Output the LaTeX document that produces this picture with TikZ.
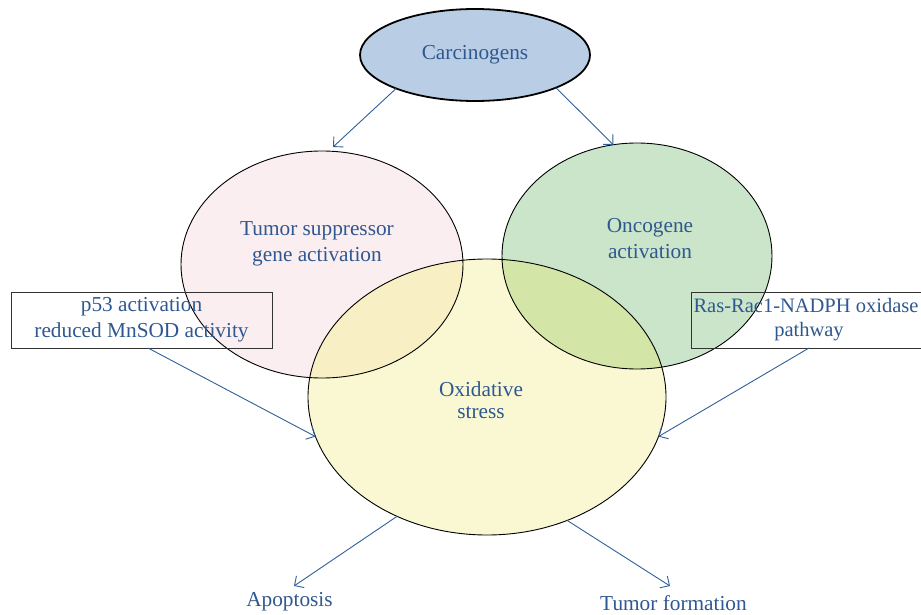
\documentclass[tikz,border=0pt]{standalone}
\usepackage{fontspec}
\setmainfont{Liberation Serif}
\usetikzlibrary{shapes.geometric,arrows.meta}
\definecolor{carcfill}{HTML}{B9CDE5}
\definecolor{pinkfill}{HTML}{FBEEF1}
\definecolor{greenfill}{HTML}{CAE5C9}
\definecolor{yellowfill}{HTML}{FAF8D3}
\definecolor{pyfill}{HTML}{F8EFC5}
\definecolor{gyfill}{HTML}{D4E6A7}
\definecolor{txtblue}{HTML}{2F5890}
\definecolor{arrowblue}{HTML}{30609A}
\definecolor{boxline}{HTML}{333333}
\begin{document}
\begin{tikzpicture}[x=1pt,y=-1pt,
  bigell/.style={ellipse, draw=black, line width=0.9pt, inner sep=0pt, outer sep=0pt},
  lbl/.style={text=txtblue, font=\fontsize{21.3}{26}\selectfont, align=center, inner sep=0pt},
  infobox/.style={draw=boxline, line width=0.9pt, inner sep=0pt, outer sep=0pt, text=txtblue, font=\fontsize{21.3}{26}\selectfont, align=center},
  conn/.style={draw=arrowblue, line width=0.9pt, -{Straight Barb[length=7pt,width=14pt]}}]
\useasboundingbox (0,0) rectangle (921,615);
% fills
\fill[pinkfill] (322,264.5) ellipse [x radius=141pt, y radius=113.5pt];
\fill[greenfill] (637,256) ellipse [x radius=135pt, y radius=113pt];
\fill[yellowfill] (487,397) ellipse [x radius=179pt, y radius=138pt];
\begin{scope}
  \clip (487,397) ellipse [x radius=179pt, y radius=138pt];
  \fill[pyfill] (322,264.5) ellipse [x radius=141pt, y radius=113.5pt];
  \fill[gyfill] (637,256) ellipse [x radius=135pt, y radius=113pt];
\end{scope}
% ellipse outlines
\node[bigell, minimum width=282pt, minimum height=227pt] (tsg) at (322,264.5) {};
\node[bigell, minimum width=270pt, minimum height=226pt] (onc) at (637,256) {};
\node[bigell, minimum width=358pt, minimum height=276pt] (ox) at (487,397) {};
\node[ellipse, draw=black, line width=1.8pt, fill=carcfill, inner sep=0pt, outer sep=0pt,
      minimum width=230pt, minimum height=92pt, text=txtblue, font=\fontsize{21.3}{26}\selectfont] (carc) at (475,55) {Carcinogens};
% labels
\node[lbl] (tsgtxt) at (317,244) {Tumor suppressor\\gene activation};
\node[lbl] (onctxt) at (650,239) {Oncogene\\activation};
\node[lbl, font=\fontsize{21.3}{21.5}\selectfont] (oxtxt) at (481,400) {Oxidative\\stress};
\node[lbl] (apop) at (289.5,602) {Apoptosis};
\node[lbl] (tumf) at (673.5,603) {Tumor formation};
% boxes
\node[infobox, minimum width=261pt, minimum height=56pt] (p53) at (141.5,320) {p53 activation\\reduced MnSOD activity};
\node[infobox, minimum width=236pt, minimum height=56pt, font=\fontsize{20.5}{24}\selectfont] (ras) at (809,320) {\hspace*{-6pt}Ras-Rac1-NADPH oxidase\\pathway};
% connectors
\coordinate (tsgtip) at (333,147);
\coordinate (apoptip) at (294,586);
\coordinate (tumftip) at (670,586);
\draw[conn] (carc.203) -- (tsgtip);
\draw[conn] (carc.338) -- (onc.102);
\draw[conn] ([xshift=6.5pt]p53.south) -- (ox.193);
\draw[conn] (ras.south) -- (ox.347);
\draw[conn] (ox.233.4) -- (apoptip);
\draw[conn] (ox.303.2) -- (tumftip);
\end{tikzpicture}
\end{document}
